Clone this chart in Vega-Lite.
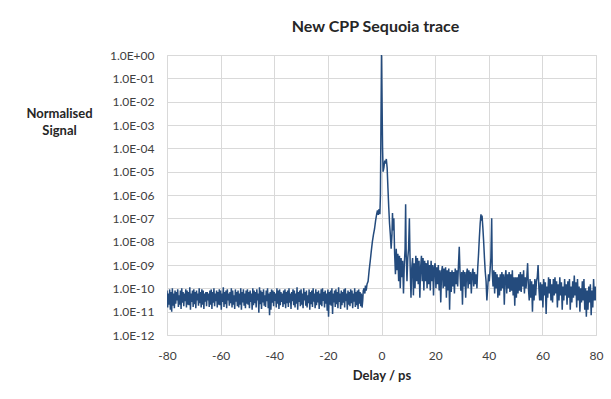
{
  "$schema": "https://vega.github.io/schema/vega-lite/v6.json",
  "width": 429,
  "height": 280,
  "autosize": "none",
  "padding": {"left": 167, "top": 55, "right": 15, "bottom": 64},
  "background": "white",
  "config": {
    "font": "Lato",
    "view": {"stroke": "#d9d9d9", "strokeWidth": 1}
  },
  "title": {
    "text": "New CPP Sequoia trace",
    "font": "Lato",
    "fontSize": 16,
    "fontWeight": "bold",
    "color": "#262626",
    "anchor": "middle",
    "dx": -6,
    "offset": 14
  },
  "data": {
    "values": [
      {"x":-80,"y":8e-11},{"x":-79.75,"y":1.5e-11},{"x":-79.5,"y":6e-11},{"x":-79.25,"y":2e-11},{"x":-79,"y":9e-11},{"x":-78.75,"y":1.2e-11},{"x":-78.5,"y":7e-11},{"x":-78.25,"y":1e-11},{"x":-78,"y":1e-10},{"x":-77.75,"y":1.8e-11},
      {"x":-77.5,"y":6e-11},{"x":-77.25,"y":1.4e-11},{"x":-77,"y":8e-11},{"x":-76.75,"y":2.2e-11},{"x":-76.5,"y":7e-11},{"x":-76.25,"y":3e-11},{"x":-76,"y":9e-11},{"x":-75.75,"y":1.6e-11},{"x":-75.5,"y":5e-11},{"x":-75.25,"y":2e-11},
      {"x":-75,"y":8e-11},{"x":-74.75,"y":1.3e-11},{"x":-74.5,"y":1e-10},{"x":-74.25,"y":2.4e-11},{"x":-74,"y":7e-11},{"x":-73.75,"y":1.7e-11},{"x":-73.5,"y":6e-11},{"x":-73.25,"y":2.8e-11},{"x":-73,"y":9e-11},{"x":-72.75,"y":1.5e-11},
      {"x":-72.5,"y":8e-11},{"x":-72.25,"y":2e-11},{"x":-72,"y":7e-11},{"x":-71.75,"y":1.9e-11},{"x":-71.5,"y":1.1e-10},{"x":-71.25,"y":1.2e-11},{"x":-71,"y":6e-11},{"x":-70.75,"y":2.6e-11},{"x":-70.5,"y":8e-11},{"x":-70.25,"y":1.6e-11},
      {"x":-70,"y":9e-11},{"x":-69.75,"y":2.1e-11},{"x":-69.5,"y":7e-11},{"x":-69.25,"y":1.4e-11},{"x":-69,"y":8e-11},{"x":-68.75,"y":3e-11},{"x":-68.5,"y":6e-11},{"x":-68.25,"y":1.8e-11},{"x":-68,"y":1e-10},{"x":-67.75,"y":2.3e-11},
      {"x":-67.5,"y":7e-11},{"x":-67.25,"y":1.5e-11},{"x":-67,"y":9e-11},{"x":-66.75,"y":2e-11},{"x":-66.5,"y":8e-11},{"x":-66.25,"y":1.3e-11},{"x":-66,"y":6e-11},{"x":-65.75,"y":2.7e-11},{"x":-65.5,"y":7e-11},{"x":-65.25,"y":1.7e-11},
      {"x":-65,"y":7e-11},{"x":-64.75,"y":3e-11},{"x":-64.5,"y":6e-11},{"x":-64.25,"y":1.6e-11},{"x":-64,"y":8e-11},{"x":-63.75,"y":2e-11},{"x":-63.5,"y":9e-11},{"x":-63.25,"y":1.3e-11},{"x":-63,"y":7e-11},{"x":-62.75,"y":2.4e-11},
      {"x":-62.5,"y":1e-10},{"x":-62.25,"y":1.7e-11},{"x":-62,"y":6e-11},{"x":-61.75,"y":2.8e-11},{"x":-61.5,"y":8e-11},{"x":-61.25,"y":1.5e-11},{"x":-61,"y":7e-11},{"x":-60.75,"y":2e-11},{"x":-60.5,"y":9e-11},{"x":-60.25,"y":1.9e-11},
      {"x":-60,"y":8e-11},{"x":-59.75,"y":1.2e-11},{"x":-59.5,"y":6e-11},{"x":-59.25,"y":2.6e-11},{"x":-59,"y":1.1e-10},{"x":-58.75,"y":1.6e-11},{"x":-58.5,"y":7e-11},{"x":-58.25,"y":2.1e-11},{"x":-58,"y":8e-11},{"x":-57.75,"y":1.4e-11},
      {"x":-57.5,"y":9e-11},{"x":-57.25,"y":3e-11},{"x":-57,"y":6e-11},{"x":-56.75,"y":1.8e-11},{"x":-56.5,"y":7e-11},{"x":-56.25,"y":2.3e-11},{"x":-56,"y":1e-10},{"x":-55.75,"y":1.5e-11},{"x":-55.5,"y":8e-11},{"x":-55.25,"y":2e-11},
      {"x":-55,"y":5e-11},{"x":-54.75,"y":1.3e-11},{"x":-54.5,"y":9e-11},{"x":-54.25,"y":2.7e-11},{"x":-54,"y":7e-11},{"x":-53.75,"y":1.7e-11},{"x":-53.5,"y":8e-11},{"x":-53.25,"y":1.5e-11},{"x":-53,"y":6e-11},{"x":-52.75,"y":2e-11},
      {"x":-52.5,"y":1e-10},{"x":-52.25,"y":1.2e-11},{"x":-52,"y":7e-11},{"x":-51.75,"y":2.5e-11},{"x":-51.5,"y":9e-11},{"x":-51.25,"y":1.8e-11},{"x":-51,"y":6e-11},{"x":-50.75,"y":1.4e-11},{"x":-50.5,"y":8e-11},{"x":-50.25,"y":2.2e-11},
      {"x":-50,"y":9e-11},{"x":-49.75,"y":2e-11},{"x":-49.5,"y":7e-11},{"x":-49.25,"y":1.4e-11},{"x":-49,"y":8e-11},{"x":-48.75,"y":2.6e-11},{"x":-48.5,"y":6e-11},{"x":-48.25,"y":1.2e-11},{"x":-48,"y":1e-10},{"x":-47.75,"y":1.9e-11},
      {"x":-47.5,"y":8e-11},{"x":-47.25,"y":2.3e-11},{"x":-47,"y":7e-11},{"x":-46.75,"y":1.5e-11},{"x":-46.5,"y":9e-11},{"x":-46.25,"y":3e-11},{"x":-46,"y":6e-11},{"x":-45.75,"y":9e-12},{"x":-45.5,"y":1.1e-10},{"x":-45.25,"y":2.1e-11},
      {"x":-45,"y":8e-11},{"x":-44.75,"y":1.3e-11},{"x":-44.5,"y":7e-11},{"x":-44.25,"y":2.5e-11},{"x":-44,"y":9e-11},{"x":-43.75,"y":1.8e-11},{"x":-43.5,"y":5e-11},{"x":-43.25,"y":1.6e-11},{"x":-43,"y":8e-11},{"x":-42.75,"y":2.8e-11},
      {"x":-42.5,"y":1e-10},{"x":-42.25,"y":1.4e-11},{"x":-42,"y":6e-11},{"x":-41.75,"y":7e-12},{"x":-41.5,"y":7e-11},{"x":-41.25,"y":1.2e-11},{"x":-41,"y":9e-11},{"x":-40.75,"y":2.4e-11},{"x":-40.5,"y":8e-11},{"x":-40.25,"y":1.7e-11},
      {"x":-40,"y":7e-11},{"x":-39.75,"y":2.9e-11},{"x":-39.5,"y":6e-11},{"x":-39.25,"y":1.5e-11},{"x":-39,"y":1e-10},{"x":-38.75,"y":2.2e-11},{"x":-38.5,"y":8e-11},{"x":-38.25,"y":1.3e-11},{"x":-38,"y":9e-11},{"x":-37.75,"y":1.9e-11},
      {"x":-37.5,"y":7e-11},{"x":-37.25,"y":2.6e-11},{"x":-37,"y":6e-11},{"x":-36.75,"y":1.6e-11},{"x":-36.5,"y":8e-11},{"x":-36.25,"y":2.1e-11},{"x":-36,"y":9e-11},{"x":-35.75,"y":1.4e-11},{"x":-35.5,"y":7e-11},{"x":-35.25,"y":2.3e-11},
      {"x":-35,"y":8e-11},{"x":-34.75,"y":1.6e-11},{"x":-34.5,"y":1e-10},{"x":-34.25,"y":2.4e-11},{"x":-34,"y":6e-11},{"x":-33.75,"y":1.3e-11},{"x":-33.5,"y":7e-11},{"x":-33.25,"y":2.8e-11},{"x":-33,"y":9e-11},{"x":-32.75,"y":1.9e-11},
      {"x":-32.5,"y":8e-11},{"x":-32.25,"y":1.5e-11},{"x":-32,"y":6e-11},{"x":-31.75,"y":2.2e-11},{"x":-31.5,"y":1.1e-10},{"x":-31.25,"y":1.2e-11},{"x":-31,"y":7e-11},{"x":-30.75,"y":2.6e-11},{"x":-30.5,"y":8e-11},{"x":-30.25,"y":1.7e-11},
      {"x":-30,"y":9e-11},{"x":-29.75,"y":2e-11},{"x":-29.5,"y":6e-11},{"x":-29.25,"y":1.4e-11},{"x":-29,"y":1e-10},{"x":-28.75,"y":3e-11},{"x":-28.5,"y":7e-11},{"x":-28.25,"y":1.8e-11},{"x":-28,"y":8e-11},{"x":-27.75,"y":1.5e-11},
      {"x":-27.5,"y":5e-11},{"x":-27.25,"y":2.3e-11},{"x":-27,"y":9e-11},{"x":-26.75,"y":1.2e-11},{"x":-26.5,"y":7e-11},{"x":-26.25,"y":2.1e-11},{"x":-26,"y":8e-11},{"x":-25.75,"y":1.6e-11},{"x":-25.5,"y":1e-10},{"x":-25.25,"y":2.7e-11},
      {"x":-25,"y":6e-11},{"x":-24.75,"y":1.4e-11},{"x":-24.5,"y":9e-11},{"x":-24.25,"y":1.9e-11},{"x":-24,"y":7e-11},{"x":-23.75,"y":2.5e-11},{"x":-23.5,"y":8e-11},{"x":-23.25,"y":1.3e-11},{"x":-23,"y":6e-11},{"x":-22.75,"y":2e-11},
      {"x":-22.5,"y":9e-11},{"x":-22.25,"y":1.7e-11},{"x":-22,"y":1e-10},{"x":-21.75,"y":2.9e-11},{"x":-21.5,"y":7e-11},{"x":-21.25,"y":1.5e-11},{"x":-21,"y":8e-11},{"x":-20.75,"y":2.2e-11},{"x":-20.5,"y":6e-11},{"x":-20.25,"y":1.1e-11},
      {"x":-20,"y":9e-11},{"x":-19.75,"y":6e-12},{"x":-19.5,"y":7e-11},{"x":-19.25,"y":2e-11},{"x":-19,"y":8e-11},{"x":-18.75,"y":1.8e-11},{"x":-18.5,"y":1e-10},{"x":-18.25,"y":8e-12},{"x":-18,"y":6e-11},{"x":-17.75,"y":2.5e-11},
      {"x":-17.5,"y":8e-11},{"x":-17.25,"y":1.6e-11},{"x":-17,"y":9e-11},{"x":-16.75,"y":2.1e-11},{"x":-16.5,"y":7e-11},{"x":-16.25,"y":1.4e-11},{"x":-16,"y":1.1e-10},{"x":-15.75,"y":2.6e-11},{"x":-15.5,"y":6e-11},{"x":-15.25,"y":1.3e-11},
      {"x":-15,"y":8e-11},{"x":-14.75,"y":1.9e-11},{"x":-14.5,"y":7e-11},{"x":-14.25,"y":2.4e-11},{"x":-14,"y":9e-11},{"x":-13.75,"y":1.5e-11},{"x":-13.5,"y":1e-10},{"x":-13.25,"y":2.8e-11},{"x":-13,"y":6e-11},{"x":-12.75,"y":1.2e-11},
      {"x":-12.5,"y":8e-11},{"x":-12.25,"y":2e-11},{"x":-12,"y":7e-11},{"x":-11.75,"y":1.7e-11},{"x":-11.5,"y":9e-11},{"x":-11.25,"y":2.3e-11},{"x":-11,"y":8e-11},{"x":-10.75,"y":1.4e-11},{"x":-10.5,"y":6e-11},{"x":-10.25,"y":2.7e-11},
      {"x":-10,"y":1e-10},{"x":-9.75,"y":1.6e-11},{"x":-9.5,"y":7e-11},{"x":-9.25,"y":1.9e-11},{"x":-9,"y":8e-11},{"x":-8.75,"y":1.3e-11},{"x":-8.5,"y":9e-11},{"x":-8.25,"y":2.2e-11},{"x":-8,"y":7e-11},{"x":-7.75,"y":1.7e-11},
      {"x":-7.5,"y":6e-11},{"x":-7.25,"y":1.5e-11},{"x":-7,"y":3e-11},{"x":-6.8,"y":8e-11},{"x":-6.5,"y":1e-10},{"x":-6.2,"y":6e-11},{"x":-6,"y":1.3e-10},{"x":-5.7,"y":8e-11},{"x":-5.4,"y":1.5e-10},{"x":-5,"y":2e-10},
      {"x":-4.6,"y":6e-10},{"x":-4.2,"y":1.5e-9},{"x":-3.8,"y":4e-9},{"x":-3.4,"y":1e-8},{"x":-3,"y":2e-8},{"x":-2.6,"y":3.5e-8},{"x":-2.2,"y":8e-8},
      {"x":-1.8,"y":1.5e-7},{"x":-1.5,"y":2.2e-7},{"x":-1.2,"y":1.4e-7},{"x":-0.9,"y":2.5e-7},{"x":-0.6,"y":1.5e-7},{"x":-0.4,"y":1e-6},{"x":-0.2,"y":1e-3},{"x":0,"y":1},{"x":0.2,"y":1e-2},{"x":0.4,"y":1e-4},
      {"x":0.6,"y":1e-5},{"x":0.9,"y":1.5e-5},{"x":1.2,"y":3e-5},{"x":1.5,"y":2.2e-5},{"x":1.8,"y":3.5e-5},{"x":2.1,"y":1.5e-5},{"x":2.4,"y":2e-6},{"x":2.7,"y":3e-7},{"x":3.0,"y":6e-8},{"x":3.3,"y":2e-8},
      {"x":3.6,"y":5e-9},{"x":3.9,"y":2e-8},{"x":4.1,"y":1.7e-7},{"x":4.3,"y":3e-8},{"x":4.6,"y":1e-7},{"x":4.9,"y":3e-9},{"x":5.2,"y":4e-10},{"x":5.5,"y":5e-9},{"x":5.8,"y":6e-10},{"x":6.1,"y":3e-9},
      {"x":6.4,"y":2e-10},{"x":6.7,"y":2.5e-9},{"x":7.0,"y":1e-10},{"x":7.3,"y":2e-9},{"x":7.6,"y":3e-10},{"x":7.9,"y":1.5e-9},{"x":8.2,"y":6e-11},{"x":8.5,"y":1e-9},{"x":8.8,"y":5e-9},{"x":9.0,"y":4e-7},
      {"x":9.2,"y":3e-9},{"x":9.5,"y":2e-10},{"x":9.8,"y":2e-9},{"x":10.1,"y":5e-9},{"x":10.4,"y":1e-7},{"x":10.7,"y":8e-10},{"x":11.0,"y":4e-11},{"x":11.3,"y":8e-10},{"x":11.6,"y":2e-9},{"x":11.9,"y":5e-11},
      {"x":12.2,"y":1.2e-9},{"x":12.5,"y":1e-10},{"x":12.8,"y":2.5e-9},{"x":13.1,"y":2e-10},{"x":13.4,"y":2e-9},{"x":13.7,"y":1.5e-10},{"x":14,"y":1.5e-9},{"x":14.3,"y":4e-11},{"x":14.6,"y":8e-10},{"x":14.9,"y":2.5e-9},
      {"x":15.2,"y":2e-10},{"x":15.5,"y":2e-9},{"x":15.8,"y":8e-11},{"x":16.1,"y":1.5e-9},{"x":16.4,"y":2e-10},{"x":16.7,"y":1.2e-9},{"x":17,"y":1e-10},{"x":17.3,"y":1.6e-9},{"x":17.6,"y":1.5e-10},{"x":17.9,"y":1e-9},
      {"x":18.2,"y":8e-11},{"x":18.5,"y":1.5e-9},{"x":18.8,"y":2e-10},{"x":19.1,"y":1e-9},{"x":19.4,"y":5e-11},{"x":19.7,"y":8e-10},{"x":20,"y":1.2e-9},{"x":20.3,"y":1e-10},{"x":20.6,"y":8e-10},{"x":20.9,"y":1.5e-10},
      {"x":21.2,"y":1e-9},{"x":21.5,"y":8e-11},{"x":21.8,"y":6e-10},{"x":22.1,"y":2.5e-11},{"x":22.4,"y":5e-10},{"x":22.7,"y":9e-10},{"x":23,"y":1e-10},{"x":23.3,"y":7e-10},{"x":23.6,"y":1.2e-10},{"x":23.9,"y":8e-10},
      {"x":24.2,"y":4e-11},{"x":24.5,"y":6e-10},{"x":24.8,"y":8e-11},{"x":25.1,"y":7e-10},{"x":25.4,"y":1.2e-11},{"x":25.7,"y":5e-10},{"x":26,"y":7e-11},{"x":26.3,"y":6e-10},{"x":26.6,"y":1.2e-10},{"x":26.9,"y":5e-10},
      {"x":27.2,"y":6e-11},{"x":27.5,"y":7e-10},{"x":27.8,"y":1.5e-10},{"x":28.1,"y":6e-10},{"x":28.4,"y":1.2e-10},{"x":28.7,"y":1e-9},{"x":29,"y":6e-9},{"x":29.3,"y":4e-10},{"x":29.6,"y":8e-11},{"x":29.9,"y":5e-10},
      {"x":30.2,"y":2e-11},{"x":30.5,"y":6e-10},{"x":30.8,"y":1.2e-10},{"x":31.1,"y":5e-10},{"x":31.4,"y":4e-11},{"x":31.7,"y":4e-10},{"x":32,"y":7e-10},{"x":32.3,"y":1e-10},{"x":32.6,"y":6e-10},{"x":32.9,"y":1.5e-10},
      {"x":33.2,"y":5e-10},{"x":33.5,"y":6e-11},{"x":33.8,"y":4e-10},{"x":34.1,"y":7e-10},{"x":34.4,"y":1.2e-10},{"x":34.7,"y":5e-10},{"x":35,"y":1.5e-10},{"x":35.3,"y":4e-10},{"x":35.6,"y":1e-10},{"x":35.9,"y":8e-10},
      {"x":36.2,"y":3e-9},{"x":36.5,"y":1.5e-8},{"x":36.8,"y":6e-8},{"x":37.1,"y":1.5e-7},{"x":37.3,"y":8e-8},{"x":37.5,"y":1.3e-7},{"x":37.8,"y":4e-8},{"x":38.1,"y":1e-8},{"x":38.4,"y":2e-9},{"x":38.7,"y":5e-10},
      {"x":39,"y":2e-10},{"x":39.3,"y":3e-11},{"x":39.6,"y":1e-10},{"x":39.9,"y":4e-10},{"x":40.2,"y":2e-10},{"x":40.5,"y":6e-10},{"x":40.8,"y":2e-9},{"x":41.1,"y":1e-7},{"x":41.3,"y":5e-10},{"x":41.6,"y":1.2e-10},
      {"x":41.9,"y":6e-10},{"x":42.2,"y":6e-11},{"x":42.5,"y":5e-10},{"x":42.8,"y":1e-10},{"x":43.1,"y":4e-10},{"x":43.4,"y":4e-11},{"x":43.7,"y":3e-10},{"x":44,"y":5e-11},{"x":44.3,"y":4e-10},{"x":44.6,"y":8e-11},
      {"x":44.9,"y":5e-10},{"x":45.2,"y":1e-10},{"x":45.5,"y":4e-10},{"x":45.8,"y":2e-11},{"x":46.1,"y":3e-10},{"x":46.4,"y":6e-10},{"x":46.7,"y":6e-11},{"x":47,"y":4e-10},{"x":47.3,"y":1e-10},{"x":47.6,"y":5e-10},
      {"x":47.9,"y":7e-11},{"x":48.2,"y":4e-10},{"x":48.5,"y":8e-11},{"x":48.8,"y":6e-10},{"x":49.1,"y":5e-11},{"x":49.4,"y":3e-10},{"x":49.7,"y":1.8e-11},{"x":50,"y":3e-10},{"x":50.3,"y":4e-11},{"x":50.6,"y":3e-10},
      {"x":50.9,"y":6e-11},{"x":51.2,"y":4e-10},{"x":51.5,"y":8e-11},{"x":51.8,"y":5e-10},{"x":52.1,"y":7e-11},{"x":52.4,"y":4e-10},{"x":52.7,"y":1.2e-10},{"x":53,"y":6e-10},{"x":53.3,"y":6e-11},{"x":53.6,"y":3e-10},
      {"x":53.9,"y":1e-10},{"x":54.2,"y":3e-10},{"x":54.5,"y":1.2e-9},{"x":54.8,"y":1e-10},{"x":55.1,"y":3e-11},{"x":55.4,"y":2.5e-10},{"x":55.7,"y":4e-11},{"x":56,"y":2e-10},{"x":56.3,"y":1e-11},{"x":56.6,"y":1.5e-10},
      {"x":56.9,"y":3e-11},{"x":57.2,"y":2.5e-10},{"x":57.5,"y":5e-11},{"x":57.8,"y":2e-10},{"x":58.1,"y":3e-10},{"x":58.4,"y":1e-9},{"x":58.7,"y":1e-10},{"x":59,"y":3e-11},{"x":59.3,"y":1.8e-10},{"x":59.6,"y":3e-11},
      {"x":59.9,"y":1.5e-10},{"x":60.2,"y":1.5e-11},{"x":60.5,"y":2.5e-10},{"x":60.8,"y":5e-11},{"x":61.1,"y":1.8e-10},{"x":61.4,"y":8e-12},{"x":61.7,"y":1.2e-10},{"x":62,"y":4e-11},{"x":62.3,"y":3e-10},{"x":62.6,"y":6e-11},
      {"x":62.9,"y":2.5e-10},{"x":63.2,"y":3e-11},{"x":63.5,"y":1.5e-10},{"x":63.8,"y":2.5e-11},{"x":64.1,"y":2.5e-10},{"x":64.4,"y":5e-11},{"x":64.7,"y":3e-10},{"x":65,"y":6e-11},{"x":65.3,"y":2e-10},{"x":65.6,"y":1.5e-11},
      {"x":65.9,"y":1.5e-10},{"x":66.2,"y":3e-11},{"x":66.5,"y":3e-10},{"x":66.8,"y":5e-11},{"x":67.1,"y":1.8e-10},{"x":67.4,"y":1.2e-11},{"x":67.7,"y":1.2e-10},{"x":68,"y":3e-11},{"x":68.3,"y":2.5e-10},{"x":68.6,"y":5e-11},
      {"x":68.9,"y":1.5e-10},{"x":69.2,"y":2e-11},{"x":69.5,"y":2e-10},{"x":69.8,"y":4e-11},{"x":70.1,"y":2.5e-10},{"x":70.4,"y":1.2e-11},{"x":70.7,"y":1.2e-10},{"x":71,"y":2.5e-11},{"x":71.3,"y":2e-10},{"x":71.6,"y":4e-11},
      {"x":71.9,"y":3.5e-10},{"x":72.2,"y":5e-11},{"x":72.5,"y":1.8e-10},{"x":72.8,"y":1.5e-11},{"x":73.1,"y":2.5e-10},{"x":73.4,"y":3e-11},{"x":73.7,"y":1.2e-10},{"x":74,"y":1e-11},{"x":74.3,"y":1e-10},{"x":74.6,"y":2.5e-11},
      {"x":74.9,"y":2e-10},{"x":75.2,"y":3e-11},{"x":75.5,"y":2.5e-10},{"x":75.8,"y":1.2e-11},{"x":76.1,"y":1e-10},{"x":76.4,"y":6e-12},{"x":76.7,"y":8e-11},{"x":77,"y":1.2e-11},{"x":77.3,"y":1.2e-10},{"x":77.6,"y":2.5e-11},
      {"x":77.9,"y":1.5e-10},{"x":78.2,"y":7e-12},{"x":78.5,"y":8e-11},{"x":78.8,"y":1.5e-11},{"x":79.1,"y":2.5e-10},{"x":79.4,"y":3e-11},{"x":79.7,"y":1.2e-10},{"x":80,"y":3e-11}
    ]
  },
  "mark": {"type": "line", "color": "#244B7D", "strokeWidth": 1.5, "clip": true},
  "encoding": {
    "x": {
      "field": "x",
      "type": "quantitative",
      "scale": {"domain": [-80, 80], "nice": false, "zero": false},
      "axis": {
        "title": "Delay / ps",
        "values": [-80, -60, -40, -20, 0, 20, 40, 60, 80],
        "labelExpr": "'' + datum.value",
        "domain": false,
        "ticks": false,
        "grid": true,
        "gridColor": "#d9d9d9",
        "gridWidth": 1,
        "labelFont": "Lato",
        "labelFontSize": 12,
        "labelColor": "#404040",
        "labelPadding": 15,
        "labelFlush": false,
        "titleFont": "Lato",
        "titleFontSize": 13,
        "titleFontWeight": "bold",
        "titleColor": "#262626",
        "titlePadding": 8
      }
    },
    "y": {
      "field": "y",
      "type": "quantitative",
      "scale": {"type": "log", "domain": [1e-12, 1], "nice": false},
      "axis": {
        "title": ["Normalised", "Signal"],
        "values": [1e-12, 1e-11, 1e-10, 1e-9, 1e-8, 1e-7, 1e-6, 1e-5, 1e-4, 1e-3, 1e-2, 1e-1, 1],
        "labelExpr": "'1.0E' + (datum.value >= 1 ? '+00' : '-' + (round(-log(datum.value)/LN10) < 10 ? '0' : '') + round(-log(datum.value)/LN10))",
        "domain": false,
        "ticks": false,
        "grid": true,
        "gridColor": "#d9d9d9",
        "gridWidth": 1,
        "labelFont": "Lato",
        "labelFontSize": 12,
        "labelColor": "#404040",
        "labelPadding": 13,
        "labelFlush": false,
        "titleFont": "Lato",
        "titleFontSize": 13,
        "titleFontWeight": "bold",
        "titleColor": "#262626",
        "titleAngle": 0,
        "titleAlign": "center",
        "titleBaseline": "middle",
        "titleLineHeight": 17,
        "titleX": -108,
        "titleY": 58
      }
    }
  }
}
